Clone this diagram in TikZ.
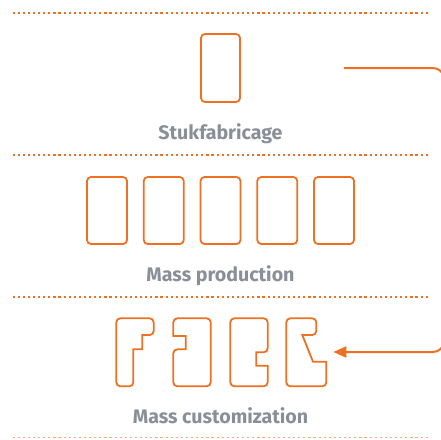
\documentclass[tikz,border=0pt]{standalone}
\usepackage{fontspec}
\setmainfont{Fira Sans}
\usetikzlibrary{arrows.meta}
\definecolor{orng}{HTML}{EE7023}
\definecolor{txtgray}{HTML}{8A8E96}
\tikzset{
  dotline/.style={orng, line width=2.3pt, dash pattern=on 2.2pt off 2.9pt},
  stepbox/.style={draw=orng, line width=1.8pt, rounded corners=4pt, minimum width=39pt, minimum height=68pt, inner sep=0pt},
  shp/.style={draw=orng, line width=1.8pt, line join=miter},
  lbl/.style={text=txtgray, font=\fontsize{19.6}{21}\selectfont\bfseries, anchor=base, inner sep=0pt},
  conn/.style={orng, line width=2pt, rounded corners=11pt}
}
\begin{document}
\begin{tikzpicture}[x=1pt, y={(0pt,-1pt)}]
\useasboundingbox (0,0) rectangle (441,439);
\clip (0,0) rectangle (441,439);
% dotted separators
\draw[dotline] (12.5,13) -- (429,13);
\draw[dotline] (12.5,155) -- (429,155);
\draw[dotline] (12.5,297) -- (429,297);
\draw[dotline, line width=1.4pt, opacity=0.6] (12.5,437.5) -- (429,437.5);
% Stukfabricage
\node[stepbox] (sf) at (220.5,68) {};
\node[lbl] (lsf) at (220.5,139.3) {Stukfabricage};
% Mass production
\node[stepbox, minimum width=40pt, minimum height=67pt] (mp1) at (107,210.5) {};
\node[stepbox, minimum width=40pt, minimum height=67pt] (mp2) at (163.75,210.5) {};
\node[stepbox, minimum width=40pt, minimum height=67pt] (mp3) at (220.5,210.5) {};
\node[stepbox, minimum width=40pt, minimum height=67pt] (mp4) at (277.25,210.5) {};
\node[stepbox, minimum width=40pt, minimum height=67pt] (mp5) at (334,210.5) {};
\node[lbl] (lmp) at (220.5,281) {Mass production};
% Mass customization shapes
\draw[shp] (116.3,352) [rounded corners=4pt] -- (116.3,318.3) -- (153.7,318.3) -- (153.7,335) [sharp corners] -- (142.3,335) -- (142.3,349.3) -- (133.3,349.3) [rounded corners=4pt] -- (133.3,386.3) -- (116.3,386.3) -- cycle;
\draw[shp] (192,386.3) [rounded corners=4pt] -- (173.3,386.3) -- (173.3,349.3) [sharp corners] -- (185.7,349.3) -- (185.7,336) -- (173.3,336) [rounded corners=4pt] -- (173.3,318.3) -- (210.7,318.3) -- (210.7,386.3) -- cycle;
\draw[shp] (249,318.3) [rounded corners=4pt] -- (267.7,318.3) -- (267.7,352.3) [sharp corners] -- (256.3,352.3) -- (256.3,365.7) -- (267.7,365.7) [rounded corners=4pt] -- (267.7,386.3) -- (230.3,386.3) -- (230.3,318.3) -- cycle;
\draw[shp] (300,318.3) [rounded corners=4pt] -- (316.3,318.3) -- (316.3,335) [sharp corners] -- (302.3,335) -- (313,361.7) -- (326.3,361.7) [rounded corners=4pt] -- (326.3,386.3) -- (286.3,386.3) -- (286.3,318.3) -- cycle;
\coordinate (mc4) at (327.3,352);
\node[lbl] (lmc) at (220.5,423.3) {Mass customization};
% connector
\coordinate (cstart) at (344,68);
\coordinate (ctop) at (444,68);
\coordinate (cbot) at (444,352);
\draw[conn, -{Triangle[length=13pt,width=11pt]}, shorten >=6pt] (cstart) -- (ctop) -- (cbot) -- (mc4);
\end{tikzpicture}
\end{document}
